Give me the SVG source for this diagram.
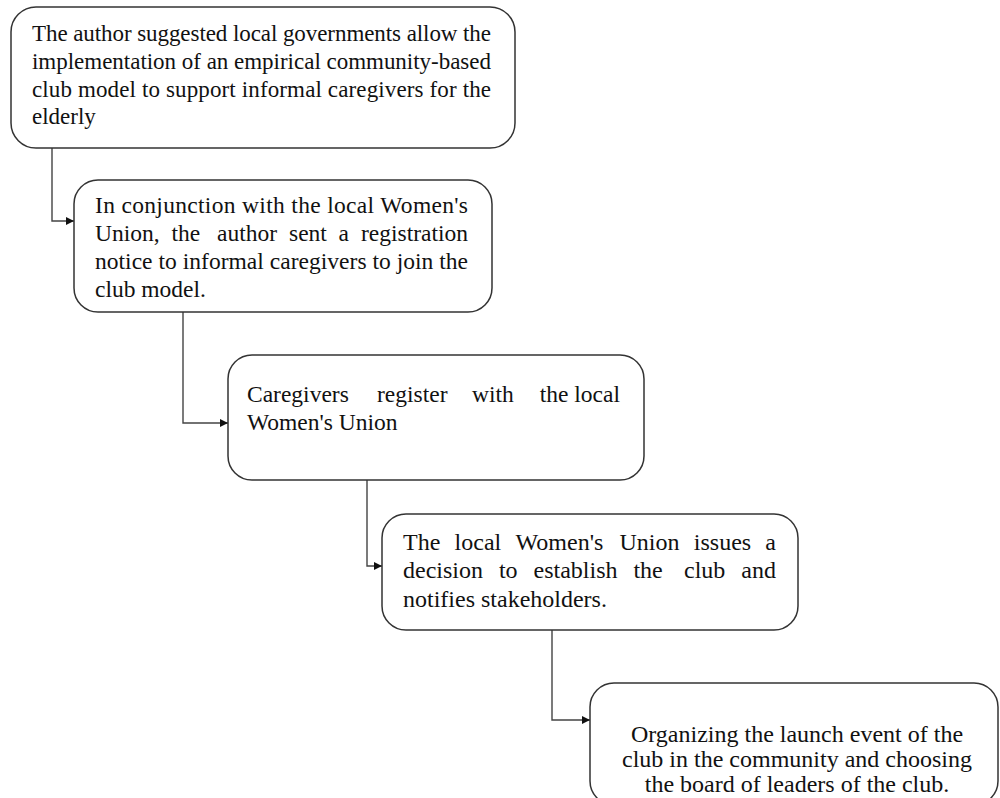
<svg xmlns="http://www.w3.org/2000/svg" width="1000" height="798" viewBox="0 0 1000 798">
<style>
.box{fill:#fff;stroke:#333;stroke-width:1.5}
.t{font-family:"Liberation Serif","Times New Roman",serif;fill:#111}
.f23{font-size:23px}
.f235{font-size:23.5px}
.f24{font-size:24px}
.conn{fill:none;stroke:#444;stroke-width:1.4}
</style>
<defs>
<marker id="arr" viewBox="0 0 10 10" refX="10" refY="5" markerWidth="9" markerHeight="8" markerUnits="userSpaceOnUse" orient="auto">
<path d="M0,0 L10,5 L0,10 z" fill="#111"/>
</marker>
</defs>
<rect width="1000" height="798" fill="#fff"/>
<g id="connectors">
<path class="conn" d="M52,148 V221 H74" marker-end="url(#arr)"/>
<path class="conn" d="M183,312 V423 H228" marker-end="url(#arr)"/>
<path class="conn" d="M367,480 V566 H382" marker-end="url(#arr)"/>
<path class="conn" d="M552,630 V720 H590" marker-end="url(#arr)"/>
</g>
<g id="node1">
<rect class="box" x="11" y="7" width="504" height="141" rx="25"/>
<text class="t f23" x="32" y="41" textLength="459" lengthAdjust="spacing">The author suggested local governments allow the</text>
<text class="t f23" x="32" y="69" textLength="459" lengthAdjust="spacing">implementation of an empirical community-based</text>
<text class="t f23" x="32" y="97" textLength="459" lengthAdjust="spacing">club model to support informal caregivers for the</text>
<text class="t f23" x="32" y="124">elderly</text>
</g>
<g id="node2">
<rect class="box" x="74" y="180" width="418" height="132" rx="24"/>
<text class="t f235" x="95" y="213" textLength="373" lengthAdjust="spacing">In conjunction with the local Women's</text>
<text class="t f235" y="241"><tspan x="95">Union,</tspan><tspan x="171.4">the</tspan><tspan x="217.1">author</tspan><tspan x="289">sent</tspan><tspan x="338.6">a</tspan><tspan x="468" text-anchor="end">registration</tspan></text>
<text class="t f235" x="95" y="269" textLength="373" lengthAdjust="spacing">notice to informal caregivers to join the</text>
<text class="t f235" x="95" y="297">club model.</text>
</g>
<g id="node3">
<rect class="box" x="228" y="355" width="416" height="125" rx="24"/>
<text class="t f235" y="402"><tspan x="247">Caregivers</tspan><tspan x="377">register</tspan><tspan x="472">with</tspan><tspan x="620" text-anchor="end">the local</tspan></text>
<text class="t f235" x="247" y="430">Women's Union</text>
</g>
<g id="node4">
<rect class="box" x="382" y="514" width="416" height="116" rx="24"/>
<text class="t f24" y="550"><tspan x="403">The</tspan><tspan x="454.6">local</tspan><tspan x="515.6">Women's</tspan><tspan x="619.5">Union</tspan><tspan x="693.8">issues</tspan><tspan x="776" text-anchor="end">a</tspan></text>
<text class="t f24" y="578"><tspan x="403">decision</tspan><tspan x="498.9">to</tspan><tspan x="533.5">establish</tspan><tspan x="633.4">the</tspan><tspan x="684">club</tspan><tspan x="776" text-anchor="end">and</tspan></text>
<text class="t f24" x="403" y="607">notifies stakeholders.</text>
</g>
<g id="node5">
<rect class="box" x="590" y="683" width="408" height="122" rx="24"/>
<text class="t f24" x="797" y="742" text-anchor="middle">Organizing the launch event of the</text>
<text class="t f24" x="797" y="767" text-anchor="middle">club in the community and choosing</text>
<text class="t f24" x="797" y="792" text-anchor="middle">the board of leaders of the club.</text>
</g>
</svg>
